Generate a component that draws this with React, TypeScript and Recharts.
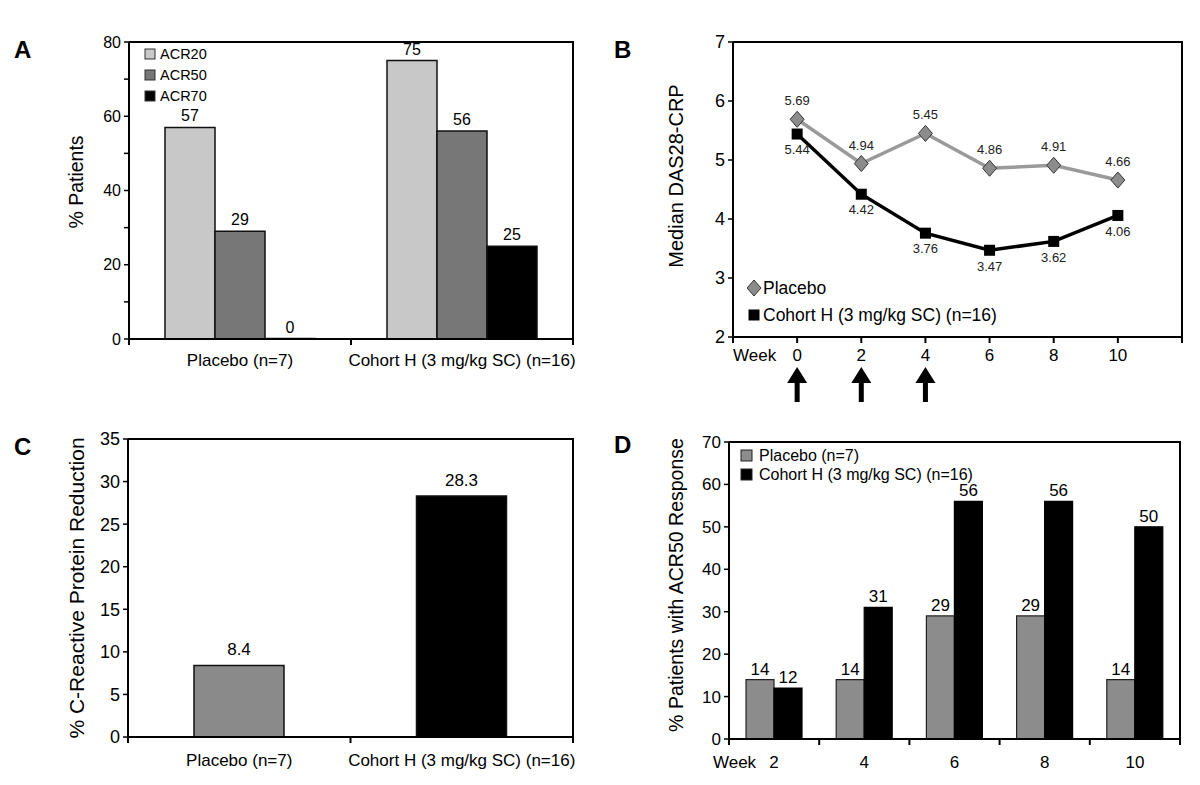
import React from 'react';
import {
  BarChart,
  Bar,
  LineChart,
  Line,
  XAxis,
  YAxis,
  LabelList,
  Cell,
} from 'recharts';

const FONT = '"Liberation Sans", Arial, Helvetica, sans-serif';

// Panel A - ACR responses
const groupsA = ['Placebo (n=7)', 'Cohort H (3 mg/kg SC) (n=16)'];
const seriesA = ['ACR20', 'ACR50', 'ACR70'];
const acr20 = [57, 75];
const acr50 = [29, 56];
const acr70 = [0, 25];
const colorsA = ['#c8c8c8', '#777777', '#000000'];
const ticksA = [0, 10, 20, 30, 40, 50, 60, 70, 80];

// Panel B - median DAS28-CRP over time
const weeksB = [0, 2, 4, 6, 8, 10];
const placeboDas = [5.69, 4.94, 5.45, 4.86, 4.91, 4.66];
const cohortDas = [5.44, 4.42, 3.76, 3.47, 3.62, 4.06];
const doseWeeks = [0, 2, 4];
const ticksBx = [-2, 0, 2, 4, 6, 8, 10, 12];
const ticksBy = [2, 3, 4, 5, 6, 7];
const seriesB = ['Placebo', 'Cohort H (3 mg/kg SC) (n=16)'];

// Panel C - CRP reduction
const groupsC = ['Placebo (n=7)', 'Cohort H (3 mg/kg SC) (n=16)'];
const crpReduction = [8.4, 28.3];
const colorsC = ['#8a8a8a', '#000000'];
const ticksC = [0, 5, 10, 15, 20, 25, 30, 35];

// Panel D - ACR50 by week
const weeksD = ['2', '4', '6', '8', '10'];
const placeboAcr50 = [14, 14, 29, 29, 14];
const cohortAcr50 = [12, 31, 56, 56, 50];
const seriesD = ['Placebo (n=7)', 'Cohort H (3 mg/kg SC) (n=16)'];
const colorsD = ['#8c8c8c', '#000000'];
const ticksD = [0, 10, 20, 30, 40, 50, 60, 70];

const dataA = groupsA.map((g, i) => ({ name: g, ACR20: acr20[i], ACR50: acr50[i], ACR70: acr70[i] }));
const dataB = weeksB.map((w, i) => ({ week: w, placebo: placeboDas[i], cohort: cohortDas[i] }));
const dataC = groupsC.map((g, i) => ({ name: g, value: crpReduction[i] }));
const dataD = weeksD.map((w, i) => ({ week: w, placebo: placeboAcr50[i], cohort: cohortAcr50[i] }));

// panel layout: position on the page, chart size, margins, axis sizes
const boxA = { px: 0, py: 0, w: 600, h: 400, m: { top: 42, right: 27, bottom: 21, left: 79 }, yw: 50, xh: 40 };
const boxB = { px: 600, py: 0, w: 600, h: 420, m: { top: 42, right: 18, bottom: 13, left: 83 }, yw: 50, xh: 70 };
const boxC = { px: 0, py: 400, w: 600, h: 385, m: { top: 39, right: 27, bottom: 8, left: 78 }, yw: 50, xh: 40 };
const boxD = { px: 600, py: 400, w: 600, h: 385, m: { top: 42, right: 20, bottom: 6, left: 79 }, yw: 50, xh: 40 };
const boxes = [boxA, boxB, boxC, boxD];
const plotW = (b: any) => b.w - b.m.left - b.m.right - b.yw;
const plotH = (b: any) => b.h - b.m.top - b.m.bottom - b.xh;

const axisLine = { stroke: '#000', strokeWidth: 2 };
const yTickLine = { stroke: '#000', strokeWidth: 1.5 };

// category tick: marks at the band edges, label in the middle
function CatTick(props: any) {
  const { x, y, payload, index, visibleTicksCount, fontSize, labelDy, weekLabel, box } = props;
  const pw = typeof props.width === 'number' && props.width > 0 ? props.width : plotW(box);
  const half = payload && payload.offset > 0 ? payload.offset : pw / (visibleTicksCount * 2);
  const last = index === visibleTicksCount - 1;
  return (
    <g>
      <line x1={x - half} x2={x - half} y1={y} y2={y + 6} stroke="#000" strokeWidth={2} />
      {last && <line x1={x + half} x2={x + half} y1={y} y2={y + 6} stroke="#000" strokeWidth={2} />}
      <text x={x} y={y + labelDy} textAnchor="middle" fontSize={fontSize} fill="#000">
        {payload.value}
      </text>
      {weekLabel && index === 0 && (
        <text x={x - 18} y={y + labelDy} textAnchor="end" fontSize={fontSize} fill="#000">
          Week
        </text>
      )}
    </g>
  );
}

function WeekTick(props: any) {
  const { x, y, payload } = props;
  const v = payload.value;
  const label = weeksB.includes(v) ? String(v) : v === ticksBx[0] ? 'Week' : '';
  const dose = doseWeeks.includes(v);
  return (
    <g>
      <text x={x} y={y + 18} textAnchor={v === ticksBx[0] ? 'start' : 'middle'} fontSize={17} fill="#000">
        {label}
      </text>
      {dose && (
        <g fill="#000">
          <polygon points={`${x - 10},${y + 40} ${x},${y + 24} ${x + 10},${y + 40}`} />
          <rect x={x - 2.5} y={y + 39} width={5} height={20} />
        </g>
      )}
    </g>
  );
}

function Diamond({ cx, cy }: { cx: number; cy: number }) {
  return (
    <polygon
      points={`${cx},${cy - 8} ${cx + 7},${cy} ${cx},${cy + 8} ${cx - 7},${cy}`}
      fill="#8c8c8c"
      stroke="#333"
      strokeWidth={1}
    />
  );
}

function Square({ cx, cy }: { cx: number; cy: number }) {
  return <rect x={cx - 5.5} y={cy - 5.5} width={11} height={11} fill="#000" />;
}

function PanelA() {
  return (
    <BarChart width={boxA.w} height={boxA.h} data={dataA} margin={boxA.m} barGap={0}>
      <XAxis
        dataKey="name"
        height={boxA.xh}
        axisLine={axisLine}
        tickLine={false}
        tickSize={0}
        tickMargin={0}
        interval={0}
        tick={(p: any) => <CatTick {...p} box={boxA} fontSize={17} labelDy={27} />}
      />
      <YAxis
        width={boxA.yw}
        domain={[0, 80]}
        ticks={ticksA}
        interval={0}
        axisLine={axisLine}
        tickLine={yTickLine}
        tickSize={5}
        tickMargin={3}
        tick={{ fontSize: 16, fill: '#000' }}
        tickFormatter={(v: number) => (v % 20 === 0 ? String(v) : '')}
      />
      {seriesA.map((s, i) => (
        <Bar
          key={s}
          dataKey={s}
          barSize={50}
          minPointSize={0.5}
          fill={colorsA[i]}
          stroke="#111"
          strokeWidth={1.5}
          isAnimationActive={false}
        >
          <LabelList dataKey={s} position="top" offset={6} fontSize={16} fill="#000" />
        </Bar>
      ))}
    </BarChart>
  );
}

function PanelB() {
  return (
    <LineChart width={boxB.w} height={boxB.h} data={dataB} margin={boxB.m}>
      <XAxis
        dataKey="week"
        type="number"
        domain={[-2, 12]}
        ticks={ticksBx}
        interval={0}
        height={boxB.xh}
        axisLine={axisLine}
        tickLine={{ stroke: '#000', strokeWidth: 2 }}
        tickSize={6}
        tickMargin={0}
        tick={(p: any) => <WeekTick {...p} />}
      />
      <YAxis
        width={boxB.yw}
        domain={[2, 7]}
        ticks={ticksBy}
        interval={0}
        axisLine={axisLine}
        tickLine={yTickLine}
        tickSize={5}
        tickMargin={3}
        tick={{ fontSize: 18, fill: '#000' }}
      />
      <Line
        dataKey="placebo"
        stroke="#9a9a9a"
        strokeWidth={3.5}
        isAnimationActive={false}
        dot={(p: any) => <Diamond key={`pd${p.index}`} cx={p.cx} cy={p.cy} />}
      >
        <LabelList dataKey="placebo" position="top" offset={14} fontSize={13} fill="#222" />
      </Line>
      <Line
        dataKey="cohort"
        stroke="#000"
        strokeWidth={3.5}
        isAnimationActive={false}
        dot={(p: any) => <Square key={`cd${p.index}`} cx={p.cx} cy={p.cy} />}
      >
        <LabelList dataKey="cohort" position="bottom" offset={11} fontSize={13} fill="#222" />
      </Line>
    </LineChart>
  );
}

function PanelC() {
  return (
    <BarChart width={boxC.w} height={boxC.h} data={dataC} margin={boxC.m}>
      <XAxis
        dataKey="name"
        height={boxC.xh}
        axisLine={axisLine}
        tickLine={false}
        tickSize={0}
        tickMargin={0}
        interval={0}
        tick={(p: any) => <CatTick {...p} box={boxC} fontSize={17} labelDy={29} />}
      />
      <YAxis
        width={boxC.yw}
        domain={[0, 35]}
        ticks={ticksC}
        interval={0}
        axisLine={axisLine}
        tickLine={yTickLine}
        tickSize={5}
        tickMargin={3}
        tick={{ fontSize: 18, fill: '#000' }}
      />
      <Bar dataKey="value" barSize={90} stroke="#111" strokeWidth={1.5} isAnimationActive={false}>
        {dataC.map((d, i) => (
          <Cell key={d.name} fill={colorsC[i]} />
        ))}
        <LabelList dataKey="value" position="top" offset={10} fontSize={17} fill="#000" />
      </Bar>
    </BarChart>
  );
}

function PanelD() {
  return (
    <BarChart width={boxD.w} height={boxD.h} data={dataD} margin={boxD.m} barGap={0}>
      <XAxis
        dataKey="week"
        height={boxD.xh}
        axisLine={axisLine}
        tickLine={false}
        tickSize={0}
        tickMargin={0}
        interval={0}
        tick={(p: any) => <CatTick {...p} box={boxD} fontSize={17} labelDy={29} weekLabel />}
      />
      <YAxis
        width={boxD.yw}
        domain={[0, 70]}
        ticks={ticksD}
        interval={0}
        axisLine={axisLine}
        tickLine={yTickLine}
        tickSize={5}
        tickMargin={3}
        tick={{ fontSize: 17, fill: '#000' }}
      />
      <Bar dataKey="placebo" barSize={28} fill={colorsD[0]} stroke="#222" strokeWidth={1.2} isAnimationActive={false}>
        <LabelList dataKey="placebo" position="top" offset={5} fontSize={17} fill="#000" />
      </Bar>
      <Bar dataKey="cohort" barSize={28} fill={colorsD[1]} stroke="#000" strokeWidth={1.2} isAnimationActive={false}>
        <LabelList dataKey="cohort" position="top" offset={5} fontSize={17} fill="#000" />
      </Bar>
    </BarChart>
  );
}

function AxisTitle({ x, y, size, text }: { x: number; y: number; size: number; text: string }) {
  return (
    <text
      transform={`translate(${x},${y}) rotate(-90)`}
      textAnchor="middle"
      dominantBaseline="central"
      fontSize={size}
      fill="#000"
    >
      {text}
    </text>
  );
}

function Overlay() {
  return (
    <svg width={1200} height={785} style={{ position: 'absolute', left: 0, top: 0, pointerEvents: 'none' }}>
      {boxes.map((b, i) => {
        const left = b.px + b.m.left + b.yw;
        const top = b.py + b.m.top;
        const right = left + plotW(b);
        const bottom = top + plotH(b);
        return (
          <path
            key={i}
            d={`M${left},${top} L${right},${top} L${right},${bottom}`}
            fill="none"
            stroke="#000"
            strokeWidth={2}
          />
        );
      })}
      <g fontWeight="bold" fontSize={24} fill="#000">
        <text x={14} y={58}>A</text>
        <text x={614} y={58}>B</text>
        <text x={14} y={455}>C</text>
        <text x={614} y={453}>D</text>
      </g>
      <AxisTitle x={76} y={182} size={19.5} text="% Patients" />
      <AxisTitle x={676} y={176} size={20} text="Median DAS28-CRP" />
      <AxisTitle x={76} y={588} size={21} text="% C-Reactive Protein Reduction" />
      <AxisTitle x={676} y={585} size={19.5} text="% Patients with ACR50 Response" />

      {seriesA.map((s, i) => (
        <g key={s}>
          <rect x={145} y={49 + i * 21} width={10} height={10} fill={colorsA[i]} stroke="#333" strokeWidth={1} />
          <text x={160} y={59 + i * 21} fontSize={14.5} fill="#000">{s}</text>
        </g>
      ))}

      <Diamond cx={754} cy={288} />
      <Square cx={754} cy={315} />
      {seriesB.map((s, i) => (
        <text key={s} x={763} y={294 + i * 27} fontSize={17.5} fill="#000">{s}</text>
      ))}

      {seriesD.map((s, i) => (
        <g key={s}>
          <rect x={741} y={450 + i * 19} width={11} height={11} fill={colorsD[i]} stroke="#222" strokeWidth={1} />
          <text x={759} y={461 + i * 19} fontSize={16} fill="#000">{s}</text>
        </g>
      ))}
    </svg>
  );
}

export default function App() {
  return (
    <div
      style={{
        position: 'absolute',
        left: 0,
        top: 0,
        width: 1200,
        height: 785,
        background: '#fff',
        fontFamily: FONT,
        overflow: 'hidden',
      }}
    >
      <div style={{ position: 'absolute', left: boxA.px, top: boxA.py }}>
        <PanelA />
      </div>
      <div style={{ position: 'absolute', left: boxB.px, top: boxB.py }}>
        <PanelB />
      </div>
      <div style={{ position: 'absolute', left: boxC.px, top: boxC.py }}>
        <PanelC />
      </div>
      <div style={{ position: 'absolute', left: boxD.px, top: boxD.py }}>
        <PanelD />
      </div>
      <Overlay />
    </div>
  );
}
